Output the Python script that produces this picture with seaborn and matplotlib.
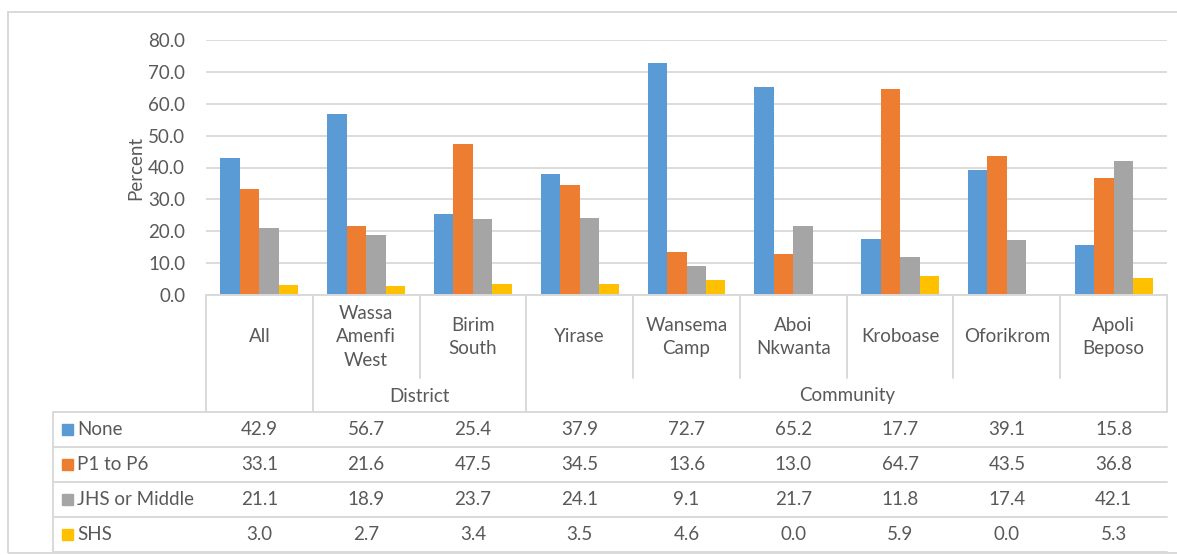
import pandas as pd
import matplotlib.pyplot as plt
import seaborn as sns
from matplotlib.lines import Line2D
from matplotlib.patches import Rectangle

categories = ["All", "Wassa\nAmenfi\nWest", "Birim\nSouth", "Yirase", "Wansema\nCamp",
              "Aboi\nNkwanta", "Kroboase", "Oforikrom", "Apoli\nBeposo"]
series = ["None", "P1 to P6", "JHS or Middle", "SHS"]
none_vals = [42.9, 56.7, 25.4, 37.9, 72.7, 65.2, 17.7, 39.1, 15.8]
p1_p6_vals = [33.1, 21.6, 47.5, 34.5, 13.6, 13.0, 64.7, 43.5, 36.8]
jhs_vals = [21.1, 18.9, 23.7, 24.1, 9.1, 21.7, 11.8, 17.4, 42.1]
shs_vals = [3.0, 2.7, 3.4, 3.5, 4.6, 0.0, 5.9, 0.0, 5.3]
groups = [("District", 1, 3), ("Community", 3, 9)]
colors = ["#5B9BD5", "#ED7D31", "#A5A5A5", "#FFC000"]

values = [none_vals, p1_p6_vals, jhs_vals, shs_vals]
rows = []
for s, vals in zip(series, values):
    for c, v in zip(categories, vals):
        rows.append({"category": c, "series": s, "value": v})
df = pd.DataFrame(rows)

sns.set_theme(style="white")
plt.rcParams["font.family"] = ["Lato", "DejaVu Sans"]
text_col = "#595959"
line_col = "#D9D9D9"
fs = 13.5

W, H = 1177, 555
fig = plt.figure(figsize=(W / 100, H / 100), dpi=100)

x0, x1 = 206, 1167
y_top, y_bot = 40, 295
ax = fig.add_axes([x0 / W, 1 - y_bot / H, (x1 - x0) / W, (y_bot - y_top) / H])
sns.barplot(data=df, x="category", y="value", hue="series", order=categories,
            hue_order=series, palette=colors, width=0.73, saturation=1,
            legend=False, ax=ax)
ax.set_ylim(0, 80)
ax.set_xlim(-0.5, len(categories) - 0.5)
ax.set_yticks(range(0, 81, 10))
ax.set_yticklabels([f"{t:.1f}" for t in range(0, 81, 10)], color=text_col, fontsize=fs)
ax.tick_params(axis="y", length=0, pad=15)
ax.set_xticks([])
ax.set_xlabel("")
ax.set_ylabel("Percent", color=text_col, fontsize=fs, labelpad=3)
ax.grid(axis="y", color=line_col, linewidth=1.3)
ax.set_axisbelow(True)
for sp in ax.spines.values():
    sp.set_visible(False)
for p in ax.patches:
    p.set_edgecolor("none")


def px(x, y):
    return x / W, 1 - y / H


def hline(xa, xb, y):
    (a, yy), (b, _) = px(xa, y), px(xb, y)
    fig.add_artist(Line2D([a, b], [yy, yy], color=line_col, lw=1.4, transform=fig.transFigure))


def vline(x, ya, yb):
    (xx, a), (_, b) = px(x, ya), px(x, yb)
    fig.add_artist(Line2D([xx, xx], [a, b], color=line_col, lw=1.4, transform=fig.transFigure))


def txt(x, y, s, ha="center"):
    fx, fy = px(x, y)
    fig.text(fx, fy, s, ha=ha, va="center", color=text_col, fontsize=fs,
             linespacing=1.45)


# outer chart border
fig.add_artist(Rectangle(px(8, 553), 1.0, (553 - 12) / H, fill=False,
                         edgecolor=line_col, lw=1.4, transform=fig.transFigure))

n = len(categories)
cw = (x1 - x0) / n
row_y = [412, 447, 482, 517, 552]
tab_left = 53

# header region
hline(x0, x1, y_bot)
for i in range(n + 1):
    xc = x0 + i * cw
    full = i in (0, 1, 3, n)
    vline(xc, y_bot, row_y[0] if full else 378)
for i, c in enumerate(categories):
    txt(x0 + (i + 0.5) * cw, 337, c)
for name, a, b in groups:
    txt(x0 + (a + b) / 2 * cw, 396, name)

# data rows
for y in row_y:
    hline(tab_left, x1, y)
vline(tab_left, row_y[0], row_y[-1])
for r, (s, vals) in enumerate(zip(series, values)):
    yc = (row_y[r] + row_y[r + 1]) / 2
    sx, sy = px(62, yc + 5.5)
    fig.add_artist(Rectangle((sx, sy), 11 / W, 11 / H, color=colors[r],
                             transform=fig.transFigure))
    txt(77, yc, s, ha="left")
    for i, v in enumerate(vals):
        txt(x0 + (i + 0.5) * cw, yc, f"{v:.1f}")

fig.savefig("out.png", dpi=100)
